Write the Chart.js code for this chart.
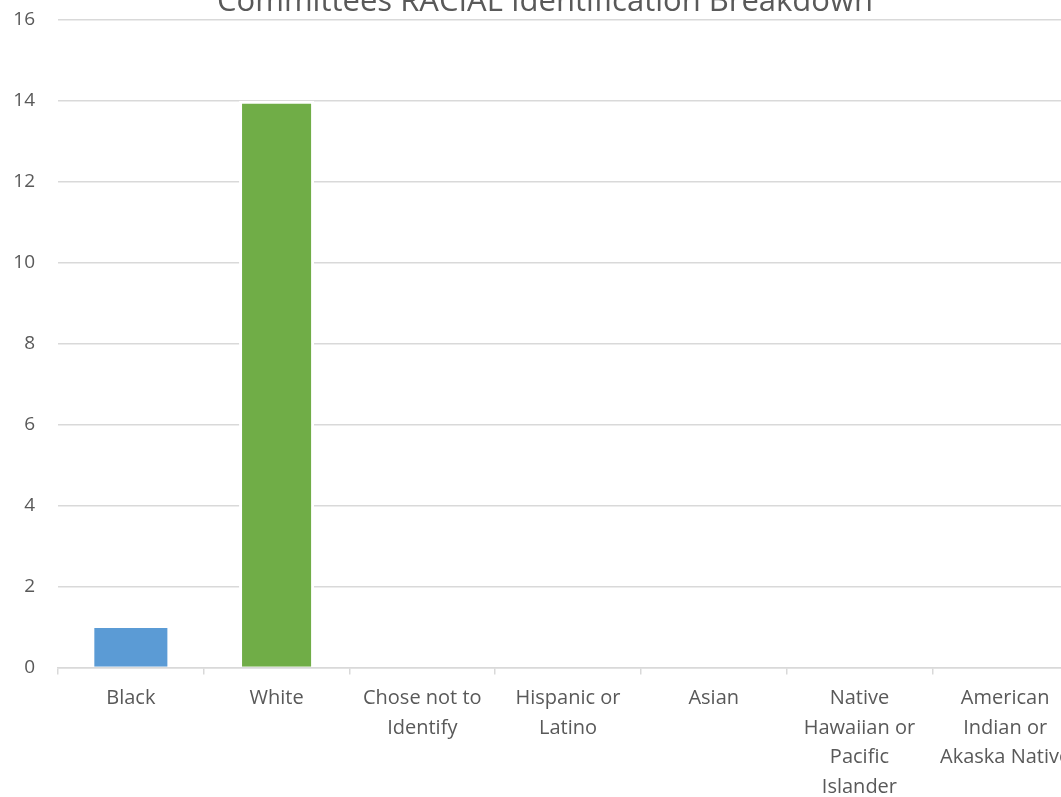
<!DOCTYPE html>
<html>
<head>
<meta charset="utf-8">
<title>Committees RACIAL Identification Breakdown</title>
<script src="https://cdn.jsdelivr.net/npm/chart.js@4.4.1/dist/chart.umd.min.js"></script>
<style>
    html, body {
        margin: 0;
        padding: 0;
        background: #ffffff;
        overflow: hidden;
        width: 1061px;
        height: 797px;
    }
    #wrap {
        position: absolute;
        left: 0;
        top: -15px;
        width: 1116px;
        height: 826px;
    }
</style>
</head>
<body>
<div id="wrap"><canvas id="barChart"></canvas></div>
<script>
// Datos del gráfico
const categories = [
    'Black',
    'White',
    ['Chose not to', 'Identify'],
    ['Hispanic or', 'Latino'],
    'Asian',
    ['Native', 'Hawaiian or', 'Pacific', 'Islander'],
    ['American', 'Indian or', 'Akaska Native'],
];
const counts = [1, 14, 0, 0, 0, 0, 0];
const barColors = ['#5B9BD5', '#70AD47', '#A5A5A5', '#FFC000', '#4472C4', '#ED7D31', '#264478'];
const yTicks = [0, 2, 4, 6, 8, 10, 12, 14, 16];

const textColor = '#595959';
const gridColor = '#D9D9D9';
const fontFamily = '"Open Sans", "Noto Sans", sans-serif';

const ctx = document.getElementById('barChart').getContext('2d');

new Chart(ctx, {
    type: 'bar',
    data: {
        labels: categories,
        datasets: [
            {
                label: 'Committees',
                data: counts,
                backgroundColor: barColors,
                borderColor: '#ffffff',
                borderWidth: [1, 3, 0, 0, 0, 0, 0],
                categoryPercentage: 1,
                barPercentage: 0.515,
            },
        ],
    },
    options: {
        responsive: true,
        maintainAspectRatio: false,
        animation: false,
        layout: {
            padding: { left: 12, right: 38, top: 0, bottom: 0 },
        },
        plugins: {
            legend: { display: false },
            tooltip: { enabled: false },
            title: {
                display: true,
                text: 'Committees RACIAL Identification Breakdown',
                color: textColor,
                font: { family: fontFamily, size: 31, weight: 'normal', lineHeight: 1.12 },
                padding: { top: 0, bottom: 0 },
            },
        },
        scales: {
            x: {
                grid: {
                    offset: true,
                    drawOnChartArea: false,
                    drawTicks: true,
                    tickLength: 7,
                    color: gridColor,
                    lineWidth: 1.5,
                },
                border: { display: true, color: gridColor, width: 1.5 },
                ticks: {
                    color: textColor,
                    padding: 9,
                    maxRotation: 0,
                    autoSkip: false,
                    font: { family: fontFamily, size: 20, lineHeight: 1.48 },
                },
            },
            y: {
                min: 0,
                max: 16,
                afterBuildTicks: axis => {
                    axis.ticks = yTicks.map(v => ({ value: v }));
                },
                // ancho fijo del eje para que el área empiece en x = 58
                afterFit: axis => {
                    axis.width = 46;
                },
                grid: {
                    drawTicks: false,
                    color: gridColor,
                    lineWidth: 1.5,
                },
                border: { display: false },
                ticks: {
                    color: textColor,
                    padding: 23,
                    font: { family: fontFamily, size: 19 },
                },
            },
        },
    },
});
</script>
</body>
</html>
